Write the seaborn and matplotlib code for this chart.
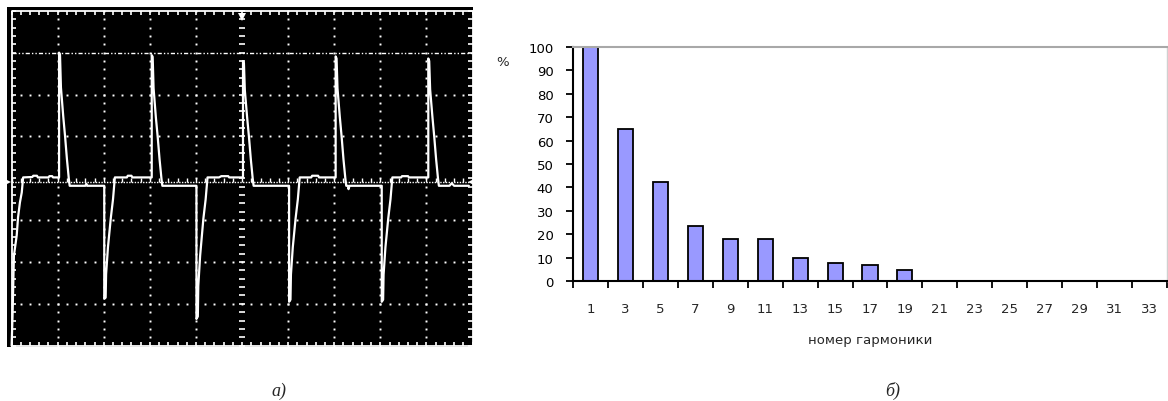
import numpy as np
import matplotlib
matplotlib.use("Agg")
import matplotlib.pyplot as plt
import seaborn as sns

# ---------------- data ----------------
# oscilloscope trace (a): time in divisions, value in divisions
trace_t = [0.00, 0.02, 0.05, 0.11, 0.14, 0.18, 0.22, 0.25,
           0.45, 0.47, 0.55, 0.57, 0.80, 0.82, 0.88, 0.90, 1.03,
           1.03, 1.05, 1.07, 1.12, 1.16, 1.20, 1.24, 1.26,
           1.60, 1.62, 1.64, 2.01,
           2.01, 2.04, 2.05, 2.09, 2.15, 2.20, 2.24,
           2.50, 2.52, 2.60, 2.62, 3.04,
           3.04, 3.06, 3.08, 3.13, 3.17, 3.21, 3.25, 3.27,
           4.01,
           4.01, 4.04, 4.05, 4.09, 4.16, 4.21, 4.25,
           4.50, 4.55, 4.70, 4.72, 5.02,
           5.02, 5.04, 5.06, 5.11, 5.15, 5.19, 5.23, 5.25,
           6.02,
           6.02, 6.05, 6.06, 6.10, 6.16, 6.21, 6.25,
           6.50, 6.52, 6.65, 6.67, 7.03,
           7.03, 7.05, 7.07, 7.12, 7.16, 7.20, 7.24, 7.26,
           7.30, 7.31, 7.33, 8.03,
           8.03, 8.06, 8.07, 8.11, 8.17, 8.22, 8.26,
           8.45, 8.47, 8.60, 8.62, 9.04,
           9.04, 9.06, 9.08, 9.13, 9.17, 9.21, 9.25, 9.27,
           9.50, 9.55, 9.60, 9.92]
trace_v = [-4.00, -3.30, -1.85, -1.37, -0.93, -0.58, -0.34, 0.02,
           0.03, 0.06, 0.06, 0.02, 0.02, 0.05, 0.05, 0.02, 0.02,
           3.00, 2.95, 2.17, 1.48, 1.00, 0.46, 0.00, -0.18,
           -0.18, -0.13, -0.18, -0.18,
           -2.88, -2.85, -2.29, -1.65, -0.97, -0.50, 0.02,
           0.02, 0.06, 0.06, 0.02, 0.02,
           2.94, 2.90, 2.15, 1.45, 0.98, 0.45, 0.00, -0.18,
           -0.18,
           -3.36, -3.30, -2.57, -1.85, -0.97, -0.50, 0.02,
           0.02, 0.05, 0.05, 0.02, 0.02,
           2.80, 2.75, 2.10, 1.45, 0.98, 0.45, 0.00, -0.18,
           -0.18,
           -2.95, -2.90, -2.30, -1.65, -0.97, -0.50, 0.02,
           0.02, 0.06, 0.06, 0.02, 0.02,
           2.91, 2.86, 2.15, 1.47, 0.99, 0.45, 0.00, -0.18,
           -0.18, -0.26, -0.18, -0.18,
           -2.95, -2.90, -2.30, -1.65, -0.97, -0.50, 0.02,
           0.02, 0.05, 0.05, 0.02, 0.02,
           2.86, 2.80, 2.12, 1.46, 0.98, 0.45, 0.00, -0.18,
           -0.18, -0.12, -0.18, -0.18]

# harmonic spectrum (б)
harmonics = ["1", "3", "5", "7", "9", "11", "13", "15", "17",
             "19", "21", "23", "25", "27", "29", "31", "33"]
percent = [100, 65, 42.5, 23.5, 18, 18, 10, 7.5, 6.8,
           4.8, 0, 0, 0, 0, 0, 0, 0]

ylabel_text = "%"
xlabel_text = "номер гармоники"
panel_labels = ["а)", "б)"]

# ---------------- figure ----------------
sns.set_style("white")
plt.rcParams["font.family"] = ["DejaVu Sans"]

W, H = 1168, 402
fig = plt.figure(figsize=(W / 100, H / 100), dpi=100)
fig.patch.set_facecolor("white")


def box(x0, y0, x1, y1):
    return [x0 / W, 1 - y1 / H, (x1 - x0) / W, (y1 - y0) / H]


# ---------- panel a: oscilloscope ----------
ax1 = fig.add_axes(box(7, 8, 473, 348))
ax1.set_facecolor("black")
ax1.set_xlim(-0.10, 10.01)
ax1.set_ylim(-4.03, 4.09)
for s in ax1.spines.values():
    s.set_visible(False)
ax1.set_xticks([])
ax1.set_yticks([])

wc = "white"
fine_y = np.arange(-4, 4.001, 0.2)
fine_x = np.arange(0, 10.001, 0.2)
# dotted grid
for gx in [1, 2, 3, 4, 6, 7, 8, 9]:
    ax1.plot(np.full_like(fine_y, gx), fine_y, ls="none", marker="s",
             ms=1.4, mew=0, color=wc)
for gy in [-3, -2, -1, 1, 2]:
    ax1.plot(fine_x, np.full_like(fine_x, gy), ls="none", marker="s",
             ms=1.4, mew=0, color=wc)
# cursor line at +3 (dash-dot)
ax1.plot([0, 10], [3, 3], color=wc, lw=1.0, ls=(0, (3, 1.5, 1, 1.5, 1, 1.5)))
# ground reference (dense dots)
ax1.plot([0, 10], [-0.1, -0.1], color=wc, lw=1.0, ls=(0, (1, 1)))
ax1.vlines(fine_x, -0.1, 0.0, color=wc, lw=1.0)
# centre vertical with dashes
ax1.hlines(fine_y, 4.94, 5.06, color=wc, lw=1.2)
# border with inward ticks
ax1.plot([0, 10, 10, 0, 0], [-4, -4, 4, 4, -4], color=wc, lw=1.3)
ax1.vlines(fine_x, 3.9, 4, color=wc, lw=1.2)
ax1.vlines(fine_x, -4, -3.9, color=wc, lw=1.2)
ax1.hlines(fine_y, 0, 0.09, color=wc, lw=1.2)
ax1.hlines(fine_y, 9.91, 10, color=wc, lw=1.2)
# markers
ax1.plot([5], [3.85], marker="v", ms=6, color=wc, mew=0)
ax1.plot([9.96], [-0.1], marker="<", ms=5, color=wc, mew=0)
ax1.plot([-0.07], [-0.1], marker=">", ms=4, color=wc, mew=0, clip_on=False)
# trace
sns.lineplot(x=trace_t, y=trace_v, ax=ax1, color=wc, lw=1.6,
             sort=False, estimator=None)
ax1.set_xlabel("")
ax1.set_ylabel("")
ax1.set_xlim(-0.10, 10.01)
ax1.set_ylim(-4.03, 4.09)

# ---------- panel б: harmonic bar chart ----------
ax2 = fig.add_axes(box(573, 48, 1167, 282))
sns.barplot(x=harmonics, y=percent, ax=ax2, color="#9999FF",
            saturation=1, edgecolor="black", linewidth=1.3, width=0.43)
ax2.set_xlim(-0.5, 16.5)
ax2.set_ylim(0, 100)
ax2.set_yticks(range(0, 101, 10))
ax2.tick_params(axis="y", direction="out", length=5, width=1.3,
                colors="black", labelsize=9.5, pad=9, left=True)
ax2.set_xticks(range(len(harmonics)))
ax2.set_xticklabels(harmonics)
ax2.tick_params(axis="x", which="major", length=0, labelsize=9.5, pad=15)
ax2.set_xticks(np.arange(-0.5, len(harmonics), 1.0), minor=True)
ax2.tick_params(axis="x", which="minor", direction="out", length=5,
                width=1.3, colors="black", bottom=True)
ax2.set_xlabel(xlabel_text, fontsize=9.5, labelpad=13)
ax2.set_ylabel("")
for side in ["left", "bottom"]:
    ax2.spines[side].set_color("black")
    ax2.spines[side].set_linewidth(1.5)
ax2.spines["top"].set_color("#a8a8a8")
ax2.spines["top"].set_linewidth(1.5)
ax2.spines["right"].set_color("#d0d0d0")
ax2.spines["right"].set_linewidth(1.0)
for s in ax2.spines.values():
    s.set_visible(True)

fig.text(503 / W, 1 - 62 / H, ylabel_text, fontsize=9.5,
         ha="center", va="center")

# panel labels
fig.text(279 / W, 1 - 391 / H, panel_labels[0], fontsize=13,
         family="Liberation Serif", style="italic", ha="center", va="center")
fig.text(893 / W, 1 - 391 / H, panel_labels[1], fontsize=13,
         family="Liberation Serif", style="italic", ha="center", va="center")

fig.savefig("out.png", dpi=100, facecolor="white")
